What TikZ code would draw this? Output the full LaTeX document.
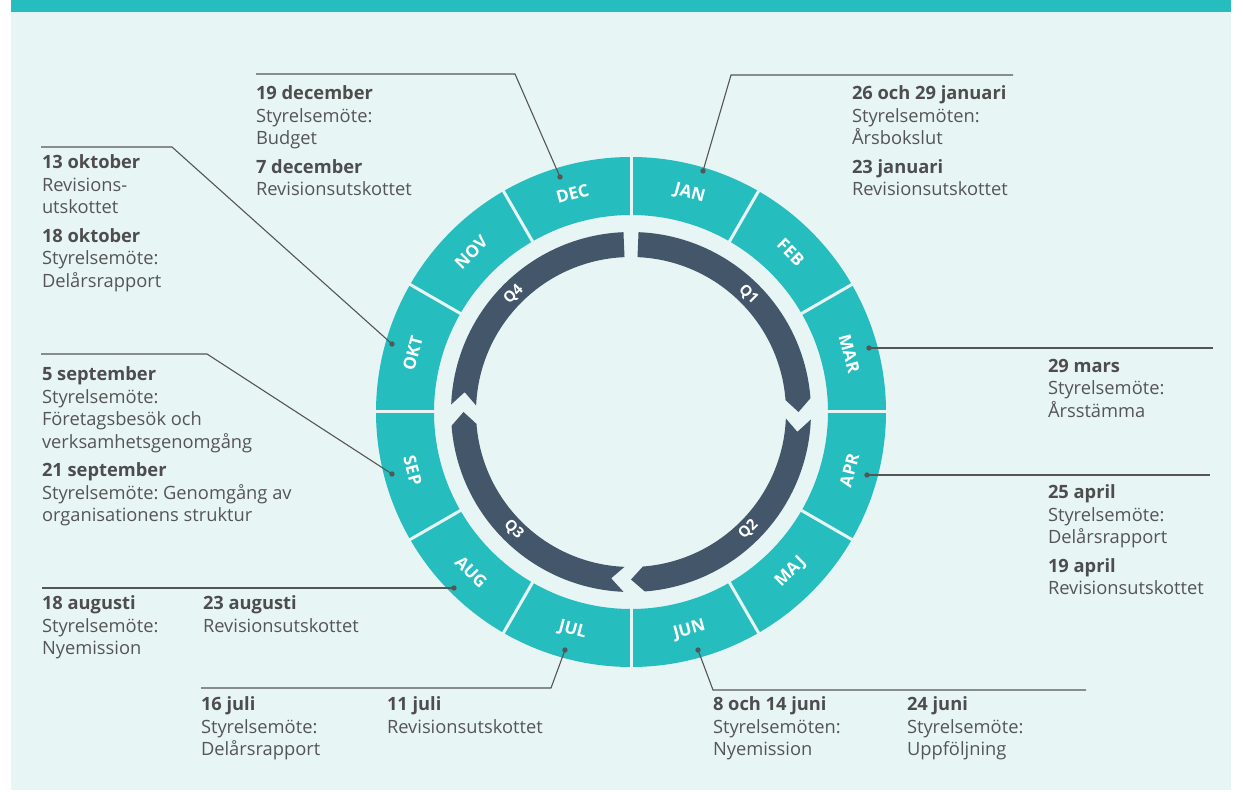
\documentclass[tikz,border=0pt]{standalone}
\usepackage{fontspec}
\setmainfont{Open Sans}
\definecolor{bgc}{HTML}{E8F5F5}
\definecolor{tealc}{HTML}{26BDBE}
\definecolor{darkc}{HTML}{43566A}
\definecolor{txtc}{HTML}{555555}
\definecolor{datec}{HTML}{4D4D4D}
\definecolor{linec}{HTML}{555555}
\newcommand{\dt}[1]{{\bfseries\color{datec}#1}}
\frenchspacing
\begin{document}
\begin{tikzpicture}[x=1pt,y=1pt,
  txt/.style={anchor=north west, inner sep=0pt, outer sep=0pt, align=left, text=txtc,
    font=\fontsize{18.3}{22.5}\selectfont},
  mlab/.style={text=white, inner sep=0pt, font=\fontsize{17}{17}\selectfont\bfseries},
  qlab/.style={text=white, inner sep=0pt, font=\fontsize{15}{15}\selectfont\bfseries},
  sepline/.style={draw=bgc, line width=3pt},
  leader/.style={draw=linec, line width=1.1pt},
  dotc/.style={fill=linec}
]
\useasboundingbox (0,0) rectangle (1243,801);
\fill[white] (0,0) rectangle (1243,801);
\fill[bgc] (11,11) rectangle (1231,789);
\fill[tealc] (11,789) rectangle (1231,801);

\begin{scope}[shift={(631,389)}]
  % month sectors
  \foreach \s in {0,...,11}{
    \fill[tealc] ({90-30*\s}:197) arc[start angle={90-30*\s}, end angle={60-30*\s}, radius=197]
      -- ({60-30*\s}:255) arc[start angle={60-30*\s}, end angle={90-30*\s}, radius=255] -- cycle;
  }
  \foreach \s in {0,...,11}{
    \draw[sepline] ({90-30*\s}:195) -- ({90-30*\s}:257);
  }
  \foreach \m/\a/\r in {JAN/75/-15, FEB/45/-45, MAR/15/-75, APR/-15/75, MAJ/-45/45, JUN/-75/15,
      JUL/-105/-15, AUG/-135/-45, SEP/-165/-75, OKT/165/75, NOV/135/45, DEC/105/15}{
    \node[mlab, rotate=\r] (m\m) at (\a:226) {\m};
  }
  % quarter arrows
  \fill[darkc] (87.6:180) arc[start angle=87.6, end angle=4.4, radius=180]
     -- (0:167.5) -- (4.4:155) arc[start angle=4.4, end angle=87.6, radius=155] -- cycle;
  \fill[darkc] (-2.4:180) arc[start angle=-2.4, end angle=-85.6, radius=180]
     -- (-90:167.5) -- (-85.6:155) arc[start angle=-85.6, end angle=-2.4, radius=155]
     -- (-6.8:167.5) -- cycle;
  \fill[darkc] (-92.4:180) arc[start angle=-92.4, end angle=-175.6, radius=180]
     -- (-180:167.5) -- (-175.6:155) arc[start angle=-175.6, end angle=-92.4, radius=155]
     -- (-96.8:167.5) -- cycle;
  \fill[darkc] (177.6:180) arc[start angle=177.6, end angle=92.4, radius=180]
     -- (92.4:155) arc[start angle=92.4, end angle=177.6, radius=155]
     -- (173.2:167.5) -- cycle;
  \node[qlab, rotate=-45] (q1) at (45:166) {Q1};
  \node[qlab, rotate=45] (q2) at (-45:166) {Q2};
  \node[qlab, rotate=-45] (q3) at (-135:166) {Q3};
  \node[qlab, rotate=45] (q4) at (135:166) {Q4};
\end{scope}

% text blocks
\node[txt] (tDEC) at (256,715) {\dt{19 december}\\Styrelsemöte:\\Budget\\[6pt]\dt{7 december}\\Revisionsutskottet};
\node[txt] (tJAN) at (852,715) {\dt{26 och 29 januari}\\Styrelsemöten:\\Årsbokslut\\[6pt]\dt{23 januari}\\Revisionsutskottet};
\node[txt] (tOKT) at (42,646) {\dt{13 oktober}\\Revisions-\\utskottet\\[6pt]\dt{18 oktober}\\Styrelsemöte:\\Delårsrapport};
\node[txt] (tSEP) at (42,434) {\dt{5 september}\\Styrelsemöte:\\Företagsbesök och\\verksamhetsgenomgång\\[6pt]\dt{21 september}\\Styrelsemöte: Genomgång av\\organisationens struktur};
\node[txt] (tMAR) at (1048,442) {\dt{29 mars}\\Styrelsemöte:\\Årsstämma};
\node[txt] (tAPR) at (1048,316) {\dt{25 april}\\Styrelsemöte:\\Delårsrapport\\[6pt]\dt{19 april}\\Revisionsutskottet};
\node[txt] (tAUGa) at (42,205) {\dt{18 augusti}\\Styrelsemöte:\\Nyemission};
\node[txt] (tAUGb) at (203,205) {\dt{23 augusti}\\Revisionsutskottet};
\node[txt] (tJULa) at (201,104) {\dt{16 juli}\\Styrelsemöte:\\Delårsrapport};
\node[txt] (tJULb) at (387,104) {\dt{11 juli}\\Revisionsutskottet};
\node[txt] (tJUNa) at (713,104) {\dt{8 och 14 juni}\\Styrelsemöten:\\Nyemission};
\node[txt] (tJUNb) at (907,104) {\dt{24 juni}\\Styrelsemöte:\\Uppföljning};

% leader coordinates
\coordinate (dDEC) at (560,624);
\coordinate (bDEC) at (515,727);
\coordinate (eDEC) at (256,727);
\coordinate (dJAN) at (703,630);
\coordinate (bJAN) at (731,726);
\coordinate (eJAN) at (1013,726);
\coordinate (dMAR) at (869,453);
\coordinate (eMAR) at (1213,453);
\coordinate (dAPR) at (867,326);
\coordinate (eAPR) at (1210,326);
\coordinate (dJUN) at (698,151);
\coordinate (bJUN) at (713,111);
\coordinate (eJUN) at (1086,111);
\coordinate (dJUL) at (565,151);
\coordinate (bJUL) at (551,113);
\coordinate (eJUL) at (201,113);
\coordinate (dAUG) at (454,213);
\coordinate (eAUG) at (42,213);
\coordinate (dSEP) at (392,327);
\coordinate (bSEP) at (207,447);
\coordinate (eSEP) at (41,447);
\coordinate (dOKT) at (392,457);
\coordinate (bOKT) at (172,654);
\coordinate (eOKT) at (41,654);

\draw[leader] (dDEC) -- (bDEC) -- (eDEC);
\draw[leader] (dJAN) -- (bJAN) -- (eJAN);
\draw[leader] (dMAR) -- (eMAR);
\draw[leader] (dAPR) -- (eAPR);
\draw[leader] (dJUN) -- (bJUN) -- (eJUN);
\draw[leader] (dJUL) -- (bJUL) -- (eJUL);
\draw[leader] (dAUG) -- (eAUG);
\draw[leader] (dSEP) -- (bSEP) -- (eSEP);
\draw[leader] (dOKT) -- (bOKT) -- (eOKT);
\foreach \d in {dDEC,dJAN,dMAR,dAPR,dJUN,dJUL,dAUG,dSEP,dOKT}{
  \fill[dotc] (\d) circle[radius=2.7];
}
\end{tikzpicture}
\end{document}
